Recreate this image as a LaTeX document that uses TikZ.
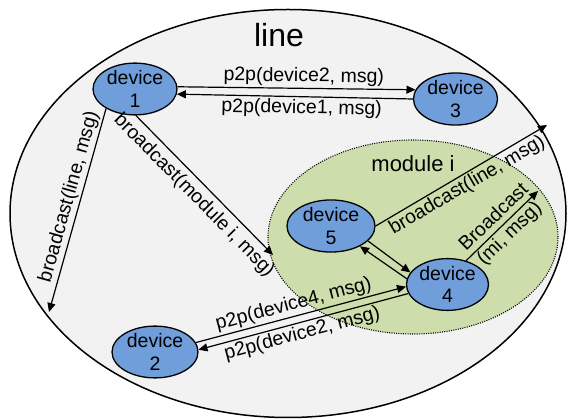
\documentclass[tikz,border=0pt]{standalone}
\usepackage{fontspec}
\setmainfont{Liberation Sans}
\usetikzlibrary{shapes.geometric,arrows.meta}
\definecolor{outerfill}{RGB}{242,242,242}
\definecolor{modfill}{RGB}{205,221,172}
\definecolor{devfill}{RGB}{112,158,218}
\begin{document}
\begin{tikzpicture}[x=1pt,y=-1pt,
  dev/.style={ellipse, draw, line width=1.3pt, fill=devfill, minimum width=84pt, minimum height=50pt, inner sep=0pt, align=center, font=\fontsize{19.5}{22.5}\selectfont},
  conn/.style={line width=1.2pt, -{Triangle[length=9pt,width=8pt]}},
  lbl/.style={font=\fontsize{19.5}{22.5}\selectfont, inner sep=2pt, sloped}
]
\useasboundingbox (0,0) rectangle (568,419);
\node[ellipse, draw, line width=1.5pt, fill=outerfill, minimum width=556pt, minimum height=408pt, inner sep=0pt] (lineell) at (288,213.5) {};
\node[font=\fontsize{32}{36}\selectfont, anchor=base, inner sep=0pt] (linelbl) at (279,47) {line};
\node[ellipse, draw, dash pattern=on 1pt off 1.3pt, line width=1.1pt, fill=modfill, minimum width=290pt, minimum height=194pt, inner sep=0pt] (mod) at (413,237) {};
\node[font=\fontsize{22}{26}\selectfont, anchor=base, inner sep=0pt] (modlbl) at (413,171.5) {module i};

\node[dev] (d1) at (135,89) {device\\1};
\node[dev] (d3) at (455.5,99) {device\\3};
\node[dev, minimum width=88pt, minimum height=52pt] (d5) at (331,226) {device\\5};
\node[dev, minimum width=82pt] (d4) at (447.5,284.5) {device\\4};
\node[dev, minimum width=86pt] (d2) at (155,352) {device\\2};

\coordinate (cL) at (49,312);
\coordinate (cM) at (273,255);
\coordinate (cB1) at (547,125);
\coordinate (cB2) at (538,191);

\draw[conn] (d1.3) -- node[lbl, above, pos=.53] {p2p(device2, msg)} (d3.167);
\draw[conn] (d3.180) -- node[lbl, below, pos=.47] {p2p(device1, msg)} (d1.-7);
\draw[conn] (d1.214) -- node[lbl, above, pos=.45] {broadcast(line, msg)} (cL);
\draw[conn] (d1.-88) -- node[lbl, below, pos=.5, inner sep=5pt] {broadcast(module i, msg)} (cM);
\draw[conn] (d5.east) -- node[lbl, below] {broadcast(line, msg)} (cB1);
\draw[conn] (d4.52) -- node[lbl, align=center, midway, inner sep=0pt] {Broadcast\\(mi, msg)} (cB2);
\draw[conn] (d5.-22) -- (d4.162);
\draw[conn] (d4.172) -- (d5.-35);
\draw[conn] (d2.13) -- node[lbl, above, pos=.48] {p2p(device4, msg)} (d4.183);
\draw[conn] (d4.193) -- node[lbl, below, pos=.52] {p2p(device2, msg)} (d2.3);
\end{tikzpicture}
\end{document}
